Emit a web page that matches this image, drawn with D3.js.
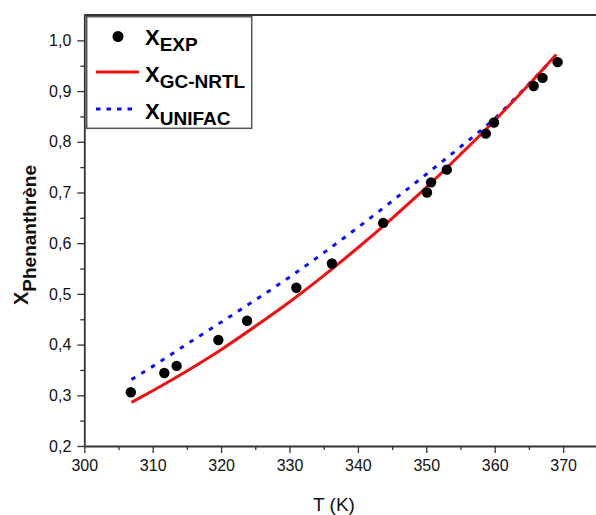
<!DOCTYPE html>
<html>
<head>
<meta charset="utf-8">
<script src="https://cdn.jsdelivr.net/npm/d3@7"></script>
<style>
  html, body { margin: 0; padding: 0; background: #fff; }
  svg { display: block; }
  text { font-family: "Liberation Sans", Arial, sans-serif; }
</style>
</head>
<body>
<svg id="chart" width="596" height="515"></svg>
<script>
// Experimental solubility of phenanthrene (mole fraction) vs temperature
const expT = [306.8, 311.7, 313.5, 319.6, 323.8, 331.0, 336.2, 343.7, 350.1, 350.7, 353.0, 358.7, 359.9, 365.7, 367.0, 369.2];
const expX = [0.306, 0.344, 0.358, 0.409, 0.447, 0.512, 0.560, 0.640, 0.700, 0.720, 0.745, 0.816, 0.838, 0.910, 0.926, 0.957];

// GC-NRTL model curve
const nrtlT = [306.9, 310, 315, 320, 325, 330, 335, 340, 345, 350, 355, 360, 365, 369.0];
const nrtlX = [0.286, 0.309, 0.348, 0.390, 0.436, 0.484, 0.536, 0.591, 0.649, 0.710, 0.775, 0.842, 0.913, 0.972];

// UNIFAC model curve
const unifacT = [306.9, 310, 315, 320, 325, 330, 335, 340, 345, 350, 355, 360, 365, 368.8];
const unifacX = [0.331, 0.357, 0.401, 0.444, 0.488, 0.533, 0.581, 0.631, 0.683, 0.736, 0.790, 0.846, 0.914, 0.968];

const xTicks = [300, 310, 320, 330, 340, 350, 360, 370];
const yTicks = [0.2, 0.3, 0.4, 0.5, 0.6, 0.7, 0.8, 0.9, 1.0];

const legendItems = [
  { main: "X", sub: "EXP", kind: "dot" },
  { main: "X", sub: "GC-NRTL", kind: "solid" },
  { main: "X", sub: "UNIFAC", kind: "dash" }
];

const svg = d3.select("#chart");
const plotLeft = 84.3, plotTop = 15, plotBottom = 446;

const x = d3.scaleLinear().domain([300, 380]).range([plotLeft, plotLeft + 80 * 6.84]);
const y = d3.scaleLinear().domain([0.2, 1.05]).range([plotBottom, plotTop]);

const fmt = d => d3.format(".1f")(d).replace(".", ",");
const axisColor = "#333";

// top frame line
svg.append("line")
  .attr("x1", plotLeft).attr("x2", 596)
  .attr("y1", y(1.05)).attr("y2", y(1.05))
  .attr("stroke", axisColor).attr("stroke-width", 1.8);

// x axis with minor ticks
const xMinor = d3.range(305, 380, 10);
svg.append("g")
  .attr("transform", `translate(0,${plotBottom})`)
  .call(d3.axisBottom(x).tickValues(xMinor).tickSize(4).tickFormat(""))
  .call(g => g.select(".domain").remove())
  .selectAll("line").attr("stroke", axisColor).attr("stroke-width", 1.3);

const xAxis = svg.append("g")
  .attr("transform", `translate(0,${plotBottom})`)
  .call(d3.axisBottom(x).tickValues(xTicks).tickSize(7).tickPadding(7).tickSizeOuter(0).tickFormat(d3.format("d")));
xAxis.select(".domain").attr("stroke", axisColor).attr("stroke-width", 1.8);
xAxis.selectAll(".tick line").attr("stroke", axisColor).attr("stroke-width", 1.3);
xAxis.selectAll("text").attr("font-size", 16).attr("fill", "#111")
  .style("font-family", '"Liberation Sans", Arial, sans-serif');

// y axis with minor ticks
const yMinor = d3.range(0.25, 1.05, 0.1);
svg.append("g")
  .attr("transform", `translate(${plotLeft},0)`)
  .call(d3.axisLeft(y).tickValues(yMinor).tickSize(4).tickFormat(""))
  .call(g => g.select(".domain").remove())
  .selectAll("line").attr("stroke", axisColor).attr("stroke-width", 1.3);

const yAxis = svg.append("g")
  .attr("transform", `translate(${plotLeft},0)`)
  .call(d3.axisLeft(y).tickValues(yTicks).tickSize(7).tickPadding(6).tickSizeOuter(0).tickFormat(fmt));
yAxis.select(".domain").attr("stroke", axisColor).attr("stroke-width", 1.8);
yAxis.selectAll(".tick line").attr("stroke", axisColor).attr("stroke-width", 1.3);
yAxis.selectAll("text").attr("font-size", 16).attr("fill", "#111")
  .style("font-family", '"Liberation Sans", Arial, sans-serif');

// axis titles
svg.append("text")
  .attr("x", 334).attr("y", 511)
  .attr("text-anchor", "middle")
  .attr("font-size", 19).attr("fill", "#111")
  .text("T (K)");

const yTitle = svg.append("text")
  .attr("transform", "translate(28,305) rotate(-90)")
  .attr("font-weight", "bold").attr("fill", "#111");
yTitle.append("tspan").attr("font-size", 20).text("X");
yTitle.append("tspan").attr("font-size", 19).attr("dy", 8).text("Phenanthrène");

// model curves
const lineGen = (ts, vs) => d3.line()
  .x((d, i) => x(ts[i]))
  .y((d, i) => y(vs[i]))
  .curve(d3.curveMonotoneX)(ts);

svg.append("path")
  .attr("d", lineGen(unifacT, unifacX))
  .attr("fill", "none").attr("stroke", "#0a0aff")
  .attr("stroke-width", 3).attr("stroke-dasharray", "4.5,7");

svg.append("path")
  .attr("d", lineGen(nrtlT, nrtlX))
  .attr("fill", "none").attr("stroke", "#f01010")
  .attr("stroke-width", 3);

// experimental points
svg.append("g").selectAll("circle")
  .data(expT)
  .join("circle")
  .attr("cx", d => x(d))
  .attr("cy", (d, i) => y(expX[i]))
  .attr("r", 5.2)
  .attr("fill", "#000");

// legend
const lg = svg.append("g");
lg.append("rect")
  .attr("x", 86.7).attr("y", 16.7).attr("width", 165).attr("height", 111.6)
  .attr("fill", "#fff").attr("stroke", "#555").attr("stroke-width", 1.5);

const rowY = [44.5, 82, 119];
legendItems.forEach((it, i) => {
  const cy = rowY[i] - 8;
  if (it.kind === "dot") {
    lg.append("circle").attr("cx", 118).attr("cy", cy).attr("r", 5.5).attr("fill", "#000");
  } else if (it.kind === "solid") {
    lg.append("line").attr("x1", 96).attr("x2", 139).attr("y1", cy - 2).attr("y2", cy - 2)
      .attr("stroke", "#f01010").attr("stroke-width", 3);
  } else {
    lg.append("line").attr("x1", 96).attr("x2", 137).attr("y1", cy - 2).attr("y2", cy - 2)
      .attr("stroke", "#0a0aff").attr("stroke-width", 3).attr("stroke-dasharray", "4.5,6");
  }
  const t = lg.append("text").attr("x", 145).attr("y", rowY[i])
    .attr("font-weight", "bold").attr("fill", "#000");
  t.append("tspan").attr("font-size", 22).text(it.main);
  t.append("tspan").attr("font-size", 19).attr("dy", 6).text(it.sub);
});
</script>
</body>
</html>
